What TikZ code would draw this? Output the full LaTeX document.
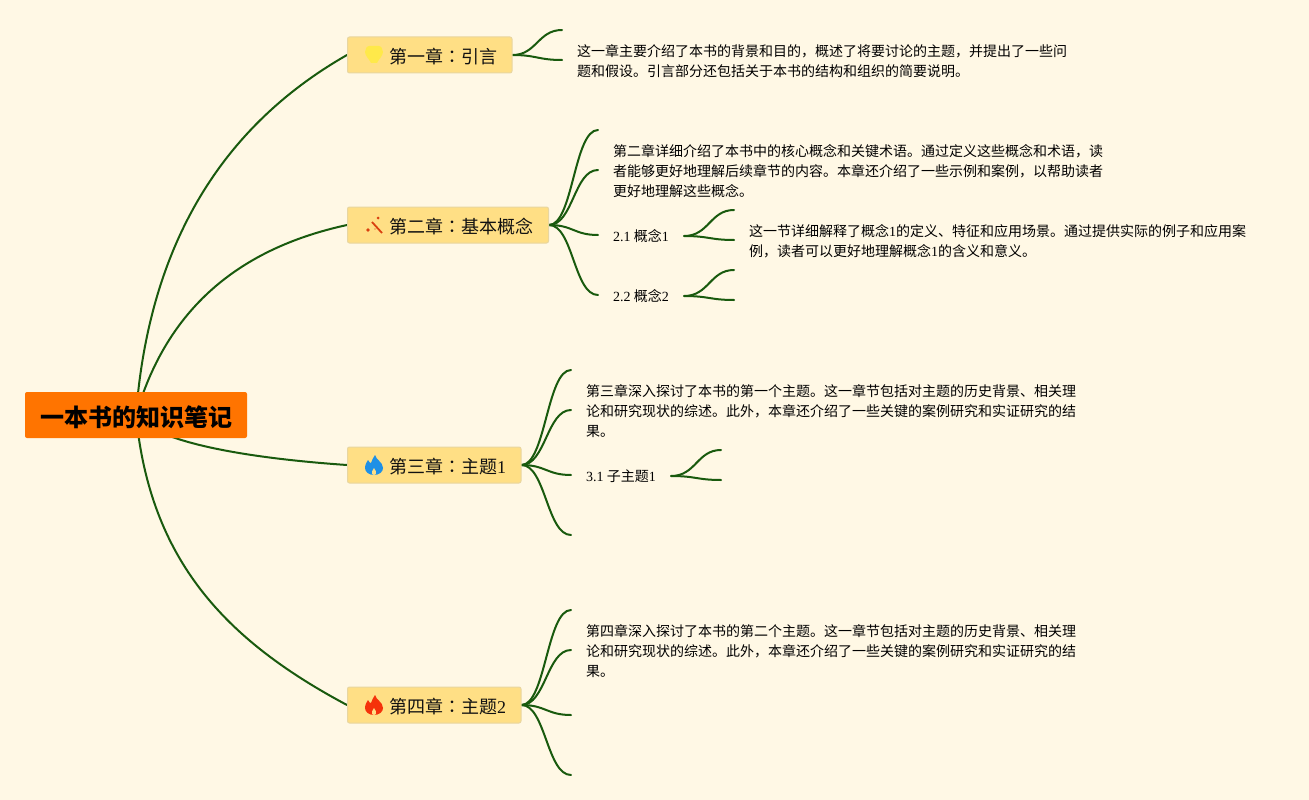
\documentclass[tikz,border=0pt]{standalone}
\usepackage{fontspec}
\setmainfont{Noto Sans CJK SC}
\newfontfamily\latfont{Liberation Serif}
\newfontfamily\tcfont{Noto Sans CJK TC}
\usetikzlibrary{backgrounds}
\definecolor{pagebg}{HTML}{FFF8E5}
\definecolor{linkcol}{HTML}{195A0E}
\definecolor{chapfill}{HTML}{FFDF85}
\definecolor{chapedge}{HTML}{E8D6A0}
\definecolor{rootfill}{HTML}{FF7400}
\definecolor{inktext}{HTML}{111111}
\definecolor{bulbcol}{HTML}{FFE94A}
\definecolor{wandcol}{HTML}{D9400F}
\definecolor{flameblue}{HTML}{1E90E6}
\definecolor{flamered}{HTML}{F5320A}
\newcommand{\La}[1]{{\latfont #1}}
\newcommand{\Col}{{\tcfont ：}}
\tikzset{
  x=1pt,y=-1pt,
  rootbox/.style={draw=none,fill=rootfill,rounded corners=2pt,inner sep=0pt,minimum width=222pt,minimum height=46pt},
  roottext/.style={inner sep=0pt,font=\fontsize{24}{24}\selectfont\bfseries,text=black},
  chapbox/.style={draw=chapedge,line width=1pt,fill=chapfill,rounded corners=2pt,inner sep=0pt,minimum height=36pt,anchor=west},
  chaptext/.style={anchor=west,inner sep=0pt,font=\fontsize{18}{18}\selectfont,text=inktext},
  notetext/.style={anchor=north west,inner sep=0pt,align=left,font=\fontsize{14}{20}\selectfont,text=black},
  subtext/.style={anchor=west,inner sep=0pt,font=\fontsize{14}{20}\selectfont,text=black},
  mainlink/.style={draw=linkcol,line width=2pt,line cap=round},
  sublink/.style={draw=linkcol,line width=2pt,line cap=round},
  flameshape/.pic={\fill[pic actions] (1,-10) .. controls (2,-5) and (9,-3) .. (9,3) .. controls (9,7) and (5,10) .. (0,10) .. controls (-5,10) and (-9,7) .. (-9,3) .. controls (-9,-1) and (-7,-3) .. (-6,-5) .. controls (-5,-3) and (-4,-2) .. (-3,-2) .. controls (-2,-5) and (-1,-7) .. (1,-10) -- cycle;
    \fill[chapfill] (0,3) .. controls (1,5) and (3,7) .. (2,9) .. controls (1,10.5) and (-1,10.5) .. (-2,9) .. controls (-3,7) and (-1,5) .. (0,3) -- cycle;},
}
\begin{document}
\begin{tikzpicture}
\useasboundingbox (0,0) rectangle (1309,800);
% root
\node[rootbox] (root) at (136,415) {};
\node[roottext] (roott) at (136,417) {一本书的知识笔记};
% chapters
\node[chapbox,minimum width=164.5pt] (c1) at (347,55) {};
\node[chapbox,minimum width=201pt] (c2) at (347,225) {};
\node[chapbox,minimum width=173.5pt] (c3) at (347,465) {};
\node[chapbox,minimum width=173.5pt] (c4) at (347,705) {};
\node[chaptext] (c1t) at (389,57) {第一章\Col 引言};
\node[chaptext] (c2t) at (389,227) {第二章\Col 基本概念};
\node[chaptext] (c3t) at (389,467) {第三章\Col 主题\La{1}};
\node[chaptext] (c4t) at (389,707) {第四章\Col 主题\La{2}};
% icons
\fill[bulbcol] (369,46) -- (379,46) .. controls (381,46) and (383,49) .. (383,52) .. controls (383,56) and (378,60) .. (377,63) -- (371,63) .. controls (370,60) and (365,56) .. (365,52) .. controls (365,49) and (367,46) .. (369,46) -- cycle;
\draw[wandcol,line width=1.8pt] (372,222) -- (382,233);
\fill[wandcol] (378,218) circle (1.5pt) (368,230) circle (1.8pt) (375,229) circle (0.6pt);
\pic[flameblue] at (374,465) {flameshape};
\pic[flamered] at (374,705) {flameshape};
% notes
\node[notetext] (n1) at (577,44) {这一章主要介绍了本书的背景和目的，概述了将要讨论的主题，并提出了一些问\\题和假设。引言部分还包括关于本书的结构和组织的简要说明。};
\node[notetext] (n2) at (613,144) {第二章详细介绍了本书中的核心概念和关键术语。通过定义这些概念和术语，读\\者能够更好地理解后续章节的内容。本章还介绍了一些示例和案例，以帮助读者\\更好地理解这些概念。};
\node[subtext] (s21) at (613,236) {\La{2.1} 概念\La{1}};
\node[subtext] (s22) at (613,296) {\La{2.2} 概念\La{2}};
\node[notetext] (n21) at (749,224) {这一节详细解释了概念\La{1}的定义、特征和应用场景。通过提供实际的例子和应用案\\例，读者可以更好地理解概念\La{1}的含义和意义。};
\node[notetext] (n3) at (586,384) {第三章深入探讨了本书的第一个主题。这一章节包括对主题的历史背景、相关理\\论和研究现状的综述。此外，本章还介绍了一些关键的案例研究和实证研究的结\\果。};
\node[subtext] (s31) at (586,476) {\La{3.1} 子主题\La{1}};
\node[notetext] (n4) at (586,624) {第四章深入探讨了本书的第二个主题。这一章节包括对主题的历史背景、相关理\\论和研究现状的综述。此外，本章还介绍了一些关键的案例研究和实证研究的结\\果。};
% link ends
\coordinate (e1a) at (562,30); \coordinate (e1b) at (562,60);
\coordinate (e2a) at (598,130); \coordinate (e2b) at (598,170); \coordinate (e2c) at (598,235); \coordinate (e2d) at (598,295);
\coordinate (e21a) at (734,210); \coordinate (e21b) at (734,240);
\coordinate (e22a) at (734,270); \coordinate (e22b) at (734,300);
\coordinate (e3a) at (571,370); \coordinate (e3b) at (571,410); \coordinate (e3c) at (571,475); \coordinate (e3d) at (571,535);
\coordinate (e31a) at (721,450); \coordinate (e31b) at (721,480);
\coordinate (e4a) at (571,610); \coordinate (e4b) at (571,650); \coordinate (e4c) at (571,715); \coordinate (e4d) at (571,775);
\begin{scope}[on background layer]
\fill[pagebg] (0,0) rectangle (1309,800);
\draw[mainlink] (root.center) .. controls (148.7,248.3) and (219,128) .. (c1.west);
\draw[mainlink] (root.center) .. controls (165,315) and (232,250) .. (c2.west);
\draw[mainlink] (root.center) .. controls (155,442) and (245,458) .. (c3.west);
\draw[mainlink] (root.center) .. controls (150,560) and (225,640) .. (c4.west);
\foreach \s/\e in {c1/e1a,c1/e1b,c2/e2a,c2/e2b,c2/e2c,c2/e2d,c3/e3a,c3/e3b,c3/e3c,c3/e3d,c4/e4a,c4/e4b,c4/e4c,c4/e4d}
  \draw[sublink] (\s.east) .. controls ([xshift=24pt]\s.east) and ([xshift=-24pt]\e) .. (\e);
\foreach \s/\e in {s21/e21a,s21/e21b,s22/e22a,s22/e22b,s31/e31a,s31/e31b}
  \draw[sublink] ([xshift=15pt]\s.east) .. controls ([xshift=40pt]\s.east) and ([xshift=-24pt]\e) .. (\e);
\end{scope}
\end{tikzpicture}
\end{document}
